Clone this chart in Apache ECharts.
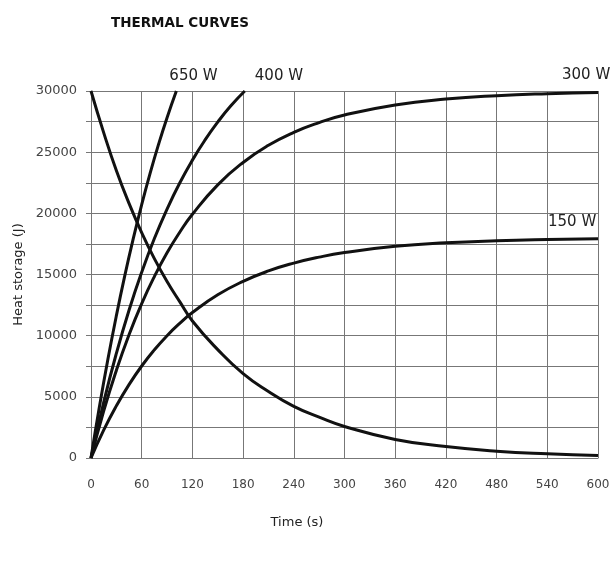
<!DOCTYPE html>
<html>
<head>
<meta charset="utf-8">
<script src="https://cdn.jsdelivr.net/npm/echarts@6/dist/echarts.min.js"></script>
<style>html,body{margin:0;padding:0;background:#fff}#c{width:614px;height:561px}</style>
</head>
<body>
<div id="c"></div>
<script>
const titleText = 'THERMAL CURVES';
const xName = 'Time (s)';
const yName = 'Heat storage (J)';

const t650 = [0, 10, 20, 30, 40, 50, 60, 70, 80, 90, 101];
const e650 = [0, 4200, 8070, 11630, 14910, 17930, 20720, 23290, 25650, 27820, 30000];

const t400 = [0, 15, 30, 45, 60, 75, 90, 105, 120, 135, 150, 165, 182];
const e400 = [0, 4550, 8550, 12080, 15190, 17940, 20350, 22480, 24350, 26000, 27460, 28750, 30000];

const tStd = [0, 15, 30, 45, 60, 75, 90, 105, 120, 150, 180, 210, 240, 270, 300, 360, 420, 480, 540, 600];
const e300 = [0, 3830, 7160, 10080, 12620, 14830, 16770, 18450, 19920, 22330, 24160, 25560, 26620, 27420, 28040, 28860, 29340, 29620, 29780, 29870];
const e150 = [0, 2280, 4260, 6000, 7520, 8840, 10000, 11010, 11890, 13340, 14440, 15290, 15930, 16420, 16790, 17300, 17590, 17760, 17860, 17920];
const eCool = [30000, 26600, 23500, 20810, 18420, 16300, 14430, 12780, 11200, 8860, 6900, 5440, 4220, 3340, 2580, 1520, 940, 560, 340, 200];

const seriesNames = ['650 W', '400 W', '300 W', '150 W', ''];

function pairs(xs, ys) { return xs.map((x, i) => [x, ys[i]]); }

const lineStyle = { color: '#111', width: 3 };
const labelFont = { fontFamily: 'DejaVu Sans', fontSize: 15, color: '#222' };

function mk(name, data, offset) {
  return {
    name: name || 'cooling',
    type: 'line',
    data: data,
    smooth: true,
    showSymbol: false,
    symbol: 'none',
    lineStyle: lineStyle,
    color: '#111',
    z: 3,
    endLabel: name ? Object.assign({ show: true, formatter: name, offset: offset }, labelFont) : { show: false }
  };
}

const chart = echarts.init(document.getElementById('c'), null, { renderer: 'canvas' });
chart.setOption({
  animation: false,
  backgroundColor: '#fff',
  title: {
    text: titleText,
    left: 106, top: 11,
    textStyle: { fontFamily: 'DejaVu Sans', fontWeight: 'bold', fontSize: 13.5, color: '#111' }
  },
  grid: { left: 91, right: 16, top: 91, bottom: 103, containLabel: false },
  xAxis: {
    type: 'value', min: 0, max: 600, interval: 60,
    name: xName, nameLocation: 'middle', nameGap: 58,
    nameTextStyle: { fontFamily: 'DejaVu Sans', fontSize: 13, color: '#222', padding: [0, 95, 0, 0] },
    axisLine: { show: true, lineStyle: { color: '#777', width: 1 } },
    axisTick: { show: false },
    axisLabel: { fontFamily: 'DejaVu Sans', fontSize: 12, color: '#444', margin: 21 },
    splitLine: { show: true, lineStyle: { color: '#777', width: 1 } }
  },
  yAxis: {
    type: 'value', min: 0, max: 30000, interval: 2500,
    name: yName, nameLocation: 'middle', nameGap: 65, nameRotate: 90,
    nameTextStyle: { fontFamily: 'DejaVu Sans', fontSize: 13, color: '#222' },
    axisLine: { show: true, lineStyle: { color: '#777', width: 1 } },
    axisTick: { show: true, length: 5, lineStyle: { color: '#777' } },
    axisLabel: { fontFamily: 'DejaVu Sans', fontSize: 13, color: '#444', margin: 14,
      formatter: v => (v % 5000 === 0 ? String(v) : '') },
    splitLine: { show: true, lineStyle: { color: '#777', width: 1 } }
  },
  series: [
    mk(seriesNames[0], pairs(t650, e650), [-15, -15]),
    mk(seriesNames[1], pairs(t400, e400), [2, -15]),
    mk(seriesNames[2], pairs(tStd, e300), [-44, -17]),
    mk(seriesNames[3], pairs(tStd, e150), [-58, -17]),
    mk(seriesNames[4], pairs(tStd, eCool), [0, 0])
  ]
});
</script>
</body>
</html>
